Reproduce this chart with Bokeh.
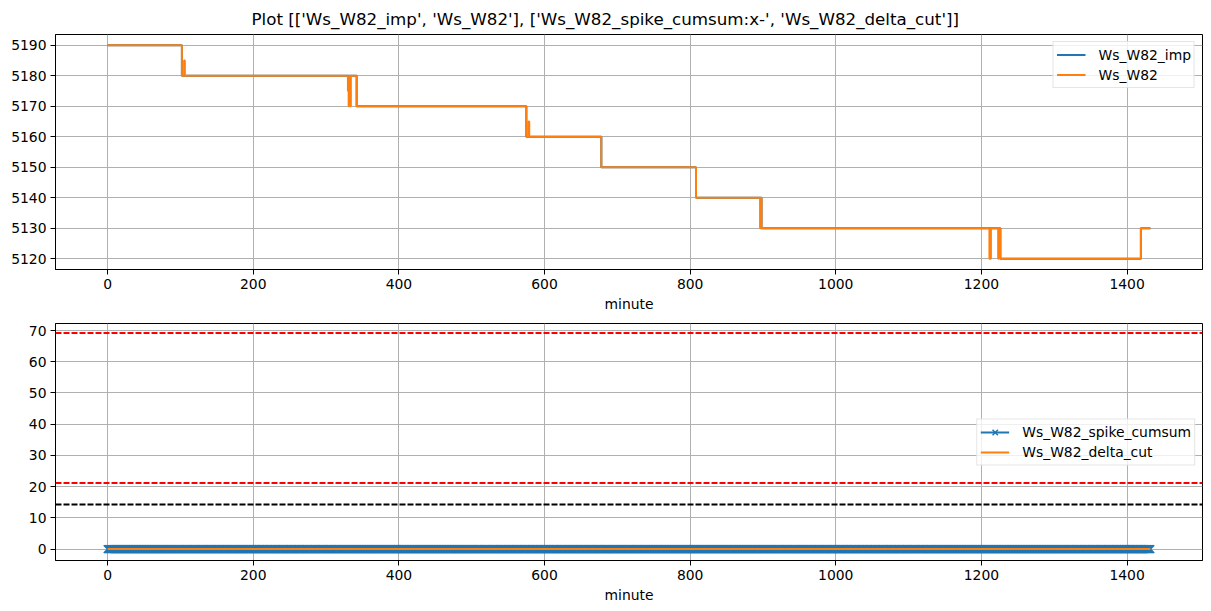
import numpy as np
from bokeh.plotting import figure
from bokeh.layouts import column
from bokeh.models import Span, Legend, LegendItem, FixedTicker, Range1d
from bokeh.embed import file_html
from bokeh.resources import INLINE

title_text = "Plot [['Ws_W82_imp', 'Ws_W82'], ['Ws_W82_spike_cumsum:x-', 'Ws_W82_delta_cut']]"

# Ws_W82 (raw): change points (minute) and level held after each
ws_minute = [0, 102, 105, 106, 330, 331, 332, 333, 334, 342, 575, 578, 579,
             678, 808, 896, 897, 898, 1211, 1213, 1223, 1224, 1226, 1419, 1432]
ws_value = [5190, 5180, 5185, 5180, 5175, 5170, 5180, 5170, 5180, 5170, 5160, 5165, 5160,
            5150, 5140, 5130, 5140, 5130, 5120, 5130, 5120, 5130, 5120, 5130, 5130]

# Ws_W82_imp (imputed)
imp_minute = [0, 102, 342, 575, 678, 808, 898, 1226, 1419, 1432]
imp_value = [5190, 5180, 5170, 5160, 5150, 5140, 5130, 5120, 5130, 5130]

# bottom panel series (one sample per minute)
minutes = list(range(0, 1433))
spike_cumsum = [0] * len(minutes)
delta_cut = [0] * len(minutes)

# horizontal reference lines
red_limits = [69.2, 21.2]
black_limit = 14.3

x_ticks = [0, 200, 400, 600, 800, 1000, 1200, 1400]
top_y_ticks = [5120, 5130, 5140, 5150, 5160, 5170, 5180, 5190]
bottom_y_ticks = [0, 10, 20, 30, 40, 50, 60, 70]

BLUE = "#1f77b4"
ORANGE = "#ff7f0e"
FONT = "DejaVu Sans"
FS = "13.9px"


def style(p, yticks):
    p.background_fill_color = "white"
    p.border_fill_color = "white"
    p.outline_line_color = "black"
    p.outline_line_width = 1
    p.xaxis.ticker = FixedTicker(ticks=x_ticks)
    p.yaxis.ticker = FixedTicker(ticks=yticks)
    for ax in p.axis:
        ax.major_label_text_font = FONT
        ax.major_label_text_font_size = FS
        ax.major_label_text_color = "black"
        ax.major_tick_in = 0
        ax.major_tick_out = 5
        ax.minor_tick_in = 0
        ax.minor_tick_out = 0
        ax.major_tick_line_color = "black"
        ax.axis_line_color = "black"
        ax.major_label_standoff = 4
    p.xaxis.axis_label = "minute"
    p.xaxis.axis_label_text_font = FONT
    p.xaxis.axis_label_text_font_size = FS
    p.xaxis.axis_label_text_font_style = "normal"
    p.xaxis.axis_label_text_color = "black"
    p.xaxis.axis_label_standoff = 4
    for g in p.grid:
        g.grid_line_color = "#b0b0b0"
        g.grid_line_width = 1


def make_legend(items):
    lg = Legend(items=items)
    lg.label_text_font = FONT
    lg.label_text_font_size = FS
    lg.label_text_color = "black"
    lg.glyph_width = 29
    lg.glyph_height = 19
    lg.label_height = 19
    lg.spacing = 1
    lg.padding = 3
    lg.margin = 7
    lg.label_standoff = 13
    lg.border_line_color = "#cccccc"
    lg.border_line_width = 1
    lg.background_fill_alpha = 0.8
    return lg


p1 = figure(width=1203, height=314, output_backend="svg", toolbar_location=None,
            x_range=Range1d(-71.6, 1503.6), y_range=Range1d(5116.5, 5193.5),
            min_border_left=55, min_border_right=1, min_border_top=34, min_border_bottom=44)
p1.title.text = title_text
p1.title.align = "left"
p1.title.offset = 196
p1.title.text_font = FONT
p1.title.text_font_size = "16.7px"
p1.title.text_font_style = "normal"
p1.title.text_color = "black"
p1.title.standoff = 12
style(p1, top_y_ticks)

r_imp = p1.step(imp_minute, imp_value, mode="after", line_color=BLUE, line_width=2)
r_ws = p1.step(ws_minute, ws_value, mode="after", line_color=ORANGE, line_width=2)
lg1 = make_legend([LegendItem(label="Ws_W82_imp", renderers=[r_imp]),
                   LegendItem(label="Ws_W82", renderers=[r_ws])])
lg1.location = "top_right"
p1.add_layout(lg1)

p2 = figure(width=1203, height=297, output_backend="svg", toolbar_location=None,
            x_range=Range1d(-71.6, 1503.6), y_range=Range1d(-3.65, 72.25),
            min_border_left=55, min_border_right=1, min_border_top=9, min_border_bottom=51)
style(p2, bottom_y_ticks)

r_sl = p2.line(minutes, spike_cumsum, line_color=BLUE, line_width=2)
r_sm = p2.scatter(minutes, spike_cumsum, marker="x", size=11, line_color=BLUE, line_width=1.5)
r_dc = p2.line(minutes, delta_cut, line_color=ORANGE, line_width=2)
for v in red_limits:
    p2.add_layout(Span(location=v, dimension="width", line_color="red", line_width=2, line_dash="6 2"))
p2.add_layout(Span(location=black_limit, dimension="width", line_color="black", line_width=2, line_dash="6 2"))

lg2 = make_legend([LegendItem(label="Ws_W82_spike_cumsum", renderers=[r_sl, r_sm]),
                   LegendItem(label="Ws_W82_delta_cut", renderers=[r_dc])])
lg2.location = "right"
p2.add_layout(lg2)

layout = column(p1, p2, spacing=0)
open("out.html", "w").write(file_html(layout, INLINE))
